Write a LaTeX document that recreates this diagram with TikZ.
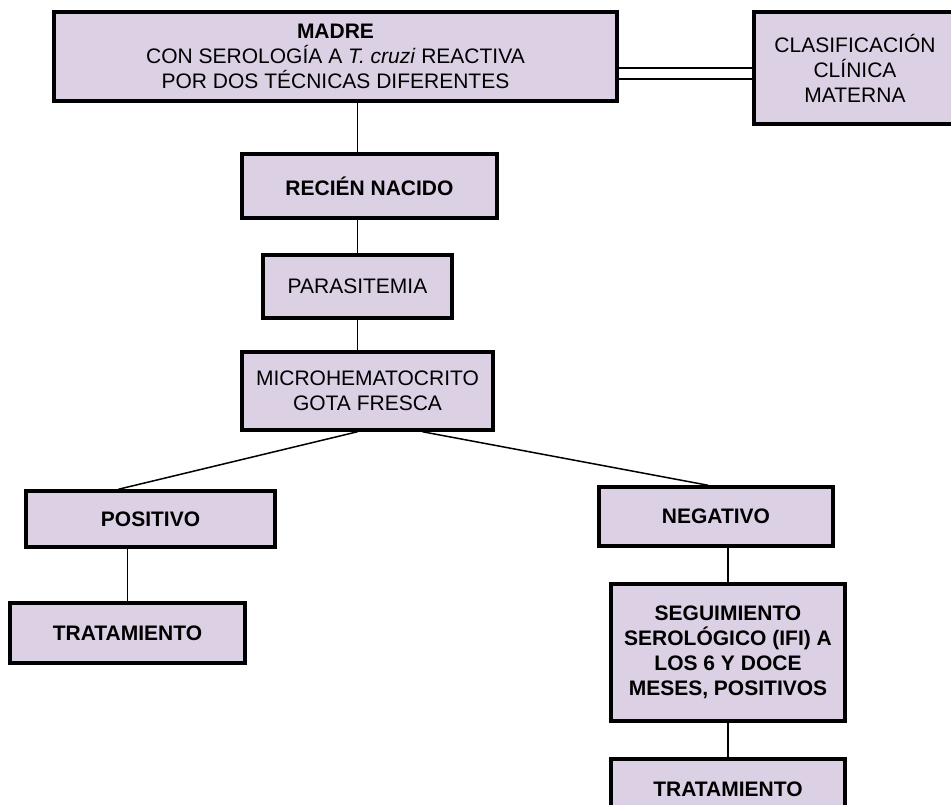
\documentclass[tikz,border=0pt]{standalone}
\usepackage{xcolor}
\usepackage{fontspec}
\setmainfont{Liberation Sans}
\usepackage{tikz}
\usetikzlibrary{calc}

\definecolor{lila}{RGB}{220,208,229}

\begin{document}
\begin{tikzpicture}[
    x = 1pt, y = -1pt,
    every node/.style = {
        draw, rectangle, fill=lila, line width=3.5pt, align=center,
        inner sep=0pt, font=\fontsize{21}{25}\selectfont
    },
    link/.style = {line width=1.5pt}
  ]
    \clip (0,0) rectangle (951,805);
    \node[minimum width=563, minimum height=89] (madre) at (335.5,56.5)
        {\textbf{MADRE}\\CON SEROLOGÍA A \textit{T. cruzi} REACTIVA\\POR DOS TÉCNICAS DIFERENTES};  % madre
    \node[minimum width=202, minimum height=112] (clas) at (855,68)
        {CLASIFICACIÓN\\CLÍNICA\\MATERNA};
    \node[minimum width=255, minimum height=64] (recien) at (369.5,186) {\textbf{RECIÉN NACIDO}};
    \node[minimum width=189, minimum height=63] (paras) at (357.5,286.5) {PARASITEMIA};
    \node[minimum width=251, minimum height=78] (micro) at (367.5,391)
        {MICROHEMATOCRITO\\GOTA FRESCA};
    \node[minimum width=249, minimum height=56] (pos) at (150.5,519) {\textbf{POSITIVO}};
    \node[minimum width=235, minimum height=60] (trat1) at (127.5,633) {\textbf{TRATAMIENTO}};
    \node[minimum width=234, minimum height=59] (neg) at (716,516.5) {\textbf{NEGATIVO}};
    \node[minimum width=234, minimum height=137] (segui) at (728,652.5)
        {\textbf{SEGUIMIENTO}\\\textbf{SEROLÓGICO (IFI) A}\\\textbf{LOS 6 Y DOCE}\\\textbf{MESES, POSITIVOS}};
    \node[minimum width=234, minimum height=60] (trat2) at (728,789) {\textbf{TRATAMIENTO}};  % ultimo

    \draw[link, double, double distance=9.5pt] ([yshift=-17pt]madre.east) -- ([yshift=-5.5pt]clas.west);
    \draw[link] (madre.south -| paras) -- (recien.north -| paras);
    \draw[link] (recien.south -| paras) -- (paras);
    \draw[link] (paras) -- (micro.north -| paras);
    \draw[link] (micro.south -| paras) -- ($(pos.north)+(-32,0)$);
    \draw[link] ($(micro.south)+(55,0)$) -- ($(neg.north)+(-8,0)$);
    \draw[link] (pos.south -| trat1) -- (trat1);
    \draw[link] (neg.south -| segui) -- (segui);
    \draw[link] (segui) -- (trat2);
\end{tikzpicture}
\end{document}
